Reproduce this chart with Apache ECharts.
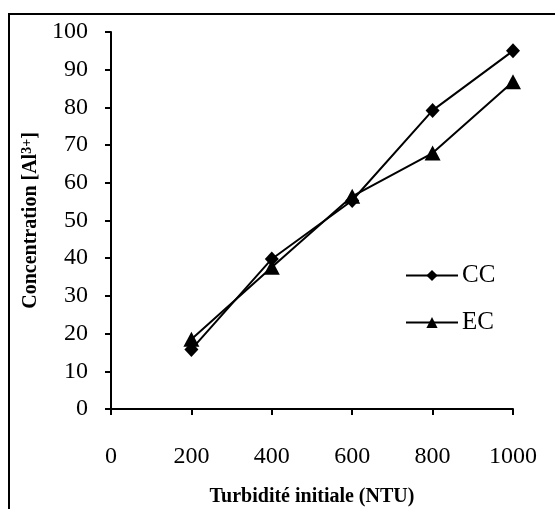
<!DOCTYPE html>
<html>
<head>
<meta charset="utf-8">
<script src="https://cdn.jsdelivr.net/npm/echarts@6/dist/echarts.min.js"></script>
<style>html,body{margin:0;padding:0;background:#fff;}#c{width:555px;height:509px;}</style>
</head>
<body>
<div id="c"></div>
<script>
const xValues = [200, 400, 600, 800, 1000];
const ccValues = [15.8, 39.8, 55.3, 79.2, 95.0];
const ecValues = [18.5, 37.6, 56.4, 67.9, 86.8];
const seriesNames = ['CC', 'EC'];
const xTitle = 'Turbidité initiale (NTU)';

const chart = echarts.init(document.getElementById('c'), null, {renderer: 'canvas'});
const font = 'Liberation Serif';
const pairs = vals => xValues.map((x, i) => [x, vals[i]]);
chart.setOption({
  animation: false,
  backgroundColor: '#fff',
  textStyle: {fontFamily: font},
  graphic: [{
    type: 'rect', shape: {x: 9, y: 14, width: 560, height: 520},
    style: {fill: 'none', stroke: '#000', lineWidth: 2}, z: 100
  }],
  grid: {left: 111, right: 42, top: 32, bottom: 100, containLabel: false, outerBoundsMode: 'none'},
  legend: {
    orient: 'vertical', left: 400, top: 258,
    itemWidth: 52, itemHeight: 14, itemGap: 22,
    textStyle: {fontFamily: font, fontSize: 25, color: '#000', lineHeight: 25, padding: [0,0,0,-1]},
    data: seriesNames
  },
  xAxis: {
    type: 'value', min: 0, max: 1000, interval: 200,
    name: xTitle, nameLocation: 'middle', nameGap: 78,
    nameTextStyle: {fontFamily: font, fontWeight: 'bold', fontSize: 20, color: '#000'},
    axisLine: {lineStyle: {color: '#000', width: 2}},
    axisTick: {show: true, length: 6, lineStyle: {color: '#000', width: 2}},
    axisLabel: {fontFamily: font, fontSize: 24, color: '#000', margin: 36, formatter: v => String(v)},
    splitLine: {show: false}
  },
  yAxis: {
    type: 'value', min: 0, max: 100, interval: 10,
    name: 'Concentration [Al{sup|3+}]', nameLocation: 'middle', nameGap: 64,
    nameTextStyle: {fontFamily: font, fontWeight: 'bold', fontSize: 20, color: '#000',
      rich: {sup: {fontFamily: font, fontWeight: 'bold', fontSize: 14, color: '#000', verticalAlign: 'top', padding: [0,0,8,0]}}},
    axisLine: {show: true, lineStyle: {color: '#000', width: 2}},
    axisTick: {show: true, length: 6, lineStyle: {color: '#000', width: 2}},
    axisLabel: {fontFamily: font, fontSize: 24, color: '#000', margin: 23, formatter: v => String(v)},
    splitLine: {show: false}
  },
  series: [
    {name: seriesNames[0], type: 'line', data: pairs(ccValues), symbol: 'diamond', symbolSize: [14, 15],
     itemStyle: {color: '#000'}, lineStyle: {color: '#000', width: 2}},
    {name: seriesNames[1], type: 'line', data: pairs(ecValues), symbol: 'triangle', symbolSize: [16, 15],
     itemStyle: {color: '#000'}, lineStyle: {color: '#000', width: 2}}
  ]
});
</script>
</body>
</html>
